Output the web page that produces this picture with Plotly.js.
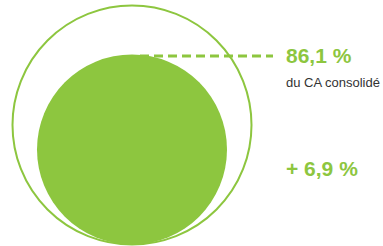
<!DOCTYPE html>
<html>
<head>
<meta charset="utf-8">
<script src="https://cdn.plot.ly/plotly-3.0.1.min.js"></script>
<style>html,body{margin:0;padding:0;background:#fff;}#chart{width:383px;height:246px;}</style>
</head>
<body>
<div id="chart"></div>
<script>
// Data
const shareValue = [86.1];
const growthValue = [6.9];
const shareLabel = ['86,1 %'];
const shareCaption = ['du CA consolidé'];
const growthLabel = ['+ 6,9 %'];

const green = '#8dc63f';

// Geometry (layout only)
const outer = {cx: 132, cy: 125, r: 119.5};
const inner = {cx: 132, r: 95};
inner.cy = outer.cy + outer.r - inner.r;

const shapes = [
  {type: 'circle', xref: 'x', yref: 'y',
   x0: outer.cx - outer.r, x1: outer.cx + outer.r, y0: outer.cy - outer.r, y1: outer.cy + outer.r,
   line: {color: green, width: 2}, fillcolor: 'rgba(0,0,0,0)'},
  {type: 'circle', xref: 'x', yref: 'y',
   x0: inner.cx - inner.r, x1: inner.cx + inner.r, y0: inner.cy - inner.r, y1: inner.cy + inner.r,
   line: {width: 0}, fillcolor: green},
  {type: 'line', xref: 'x', yref: 'y',
   x0: 140, x1: 273, y0: inner.cy - inner.r + 1.5, y1: inner.cy - inner.r + 1.5,
   line: {color: green, width: 3, dash: '9px,5px'}}
];

const fmt = v => v.toFixed(1).replace('.', ',');

const annotations = [
  {x: 284, y: 55, xref: 'x', yref: 'y', text: '<b>' + fmt(shareValue[0]) + ' %</b>', showarrow: false,
   xanchor: 'left', yanchor: 'middle', font: {family: 'Liberation Sans, Arial, sans-serif', size: 21, color: green}},
  {x: 284, y: 82, xref: 'x', yref: 'y', text: shareCaption[0], showarrow: false,
   xanchor: 'left', yanchor: 'middle', font: {family: 'Liberation Sans, Arial, sans-serif', size: 13, color: '#333333'}},
  {x: 284, y: 168, xref: 'x', yref: 'y', text: '<b>+ ' + fmt(growthValue[0]) + ' %</b>', showarrow: false,
   xanchor: 'left', yanchor: 'middle', font: {family: 'Liberation Sans, Arial, sans-serif', size: 21, color: green}}
];

const layout = {
  width: 383, height: 246,
  margin: {l: 0, r: 0, t: 0, b: 0, pad: 0},
  paper_bgcolor: '#ffffff', plot_bgcolor: '#ffffff',
  xaxis: {range: [0, 383], visible: false, fixedrange: true},
  yaxis: {range: [246, 0], visible: false, fixedrange: true},
  shapes: shapes,
  annotations: annotations,
  showlegend: false
};

Plotly.newPlot('chart', [{x: [], y: [], type: 'scatter', mode: 'markers', hoverinfo: 'skip'}], layout, {staticPlot: true, displayModeBar: false});
</script>
</body>
</html>
